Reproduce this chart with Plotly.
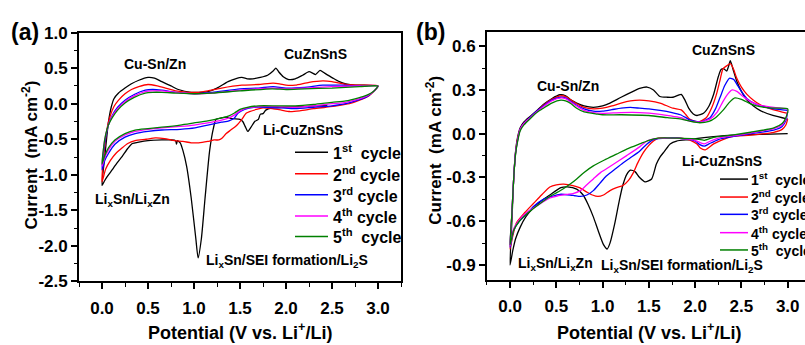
import plotly.graph_objects as go

W, H = 805, 345

# ---------------- Panel (a) data ----------------
A1_X = [2.45, 2.2, 2.0, 1.85, 1.78, 1.75, 1.72, 1.70, 1.66, 1.62, 1.585, 1.56, 1.53, 1.50, 1.42, 1.35, 1.30, 1.24, 1.21, 1.17, 1.12, 1.08, 1.045, 1.02, 0.97, 0.92, 0.88, 0.85, 0.82, 0.81, 0.80, 0.75, 0.65, 0.5, 0.4, 0.33, 0.28, 0.22, 0.16, 0.11, 0.06, 0.03, 0.0,
        0.03, 0.07, 0.10, 0.13, 0.18, 0.25, 0.32, 0.40, 0.50, 0.57, 0.65, 0.75, 0.83, 0.97, 1.06, 1.15, 1.25, 1.37, 1.45, 1.52, 1.58, 1.64, 1.72, 1.80, 1.86, 1.89, 1.92, 1.97, 2.03, 2.10, 2.18, 2.25, 2.29, 2.32, 2.37, 2.42, 2.51, 2.58, 2.65, 2.75, 2.85, 3.0]
A1_Y = [-0.02, -0.04, -0.05, -0.06, -0.09, -0.14, -0.15, -0.22, -0.25, -0.33, -0.39, -0.33, -0.25, -0.22, -0.21, -0.19, -0.20, -0.22, -0.35, -0.66, -1.33, -1.9, -2.17, -1.9, -1.33, -0.88, -0.66, -0.55, -0.52, -0.57, -0.52, -0.51, -0.51, -0.52, -0.54, -0.56, -0.63, -0.74, -0.84, -0.93, -1.02, -1.08, -1.15,
        -0.75, -0.26, -0.05, 0.07, 0.15, 0.22, 0.28, 0.33, 0.37, 0.36, 0.31, 0.25, 0.20, 0.16, 0.16, 0.17, 0.22, 0.31, 0.35, 0.37, 0.35, 0.35, 0.37, 0.40, 0.46, 0.50, 0.45, 0.38, 0.34, 0.35, 0.40, 0.45, 0.43, 0.41, 0.47, 0.43, 0.36, 0.31, 0.28, 0.26, 0.26, 0.25]

A2_X = [3.0, 2.96, 2.90, 2.80, 2.69, 2.55, 2.43, 2.3, 2.15, 2.04, 1.95, 1.85, 1.75, 1.68, 1.57, 1.52, 1.46, 1.40, 1.35, 1.30, 1.27, 1.22, 1.15, 1.05, 0.97, 0.88, 0.79, 0.68, 0.58, 0.48, 0.36, 0.28, 0.22, 0.15, 0.09, 0.04, 0.0,
        0.03, 0.06, 0.09, 0.13, 0.18, 0.25, 0.32, 0.40, 0.50, 0.60, 0.69, 0.80, 0.94, 1.05, 1.15, 1.30, 1.52, 1.70, 1.86, 1.93, 2.0, 2.1, 2.25, 2.40, 2.50, 2.65, 2.8, 3.0]
A2_Y = [0.25, 0.18, 0.11, 0.05, 0.0, -0.03, -0.05, -0.07, -0.10, -0.11, -0.09, -0.07, -0.06, -0.08, -0.13, -0.22, -0.31, -0.37, -0.42, -0.49, -0.51, -0.51, -0.53, -0.55, -0.55, -0.53, -0.52, -0.49, -0.48, -0.50, -0.52, -0.56, -0.62, -0.70, -0.80, -0.92, -1.10,
        -0.6, -0.32, -0.17, -0.04, 0.05, 0.14, 0.20, 0.24, 0.27, 0.25, 0.22, 0.18, 0.16, 0.16, 0.18, 0.22, 0.26, 0.27, 0.29, 0.28, 0.26, 0.26, 0.30, 0.32, 0.31, 0.27, 0.26, 0.25]

A3_X = [3.0, 2.95, 2.88, 2.78, 2.65, 2.5, 2.3, 2.1, 1.95, 1.8, 1.65, 1.55, 1.48, 1.44, 1.38, 1.30, 1.15, 1.01, 0.85, 0.65, 0.50, 0.36, 0.25, 0.14, 0.07, 0.03, 0.0,
        0.03, 0.07, 0.11, 0.17, 0.25, 0.35, 0.47, 0.55, 0.65, 0.80, 1.01, 1.2, 1.5, 1.7, 1.86, 2.0, 2.2, 2.4, 2.6, 2.8, 3.0]
A3_Y = [0.25, 0.17, 0.10, 0.05, 0.0, -0.03, -0.05, -0.07, -0.06, -0.05, -0.05, -0.08, -0.13, -0.20, -0.24, -0.26, -0.30, -0.34, -0.36, -0.37, -0.39, -0.42, -0.47, -0.57, -0.70, -0.80, -0.93,
        -0.55, -0.30, -0.17, -0.05, 0.05, 0.13, 0.19, 0.20, 0.19, 0.16, 0.14, 0.16, 0.21, 0.22, 0.24, 0.22, 0.23, 0.26, 0.26, 0.25, 0.25]

A4_X = [3.0, 2.95, 2.88, 2.78, 2.65, 2.5, 2.3, 2.1, 1.9, 1.7, 1.58, 1.50, 1.45, 1.38, 1.30, 1.15, 1.0, 0.85, 0.65, 0.50, 0.36, 0.25, 0.14, 0.07, 0.03, 0.0,
        0.03, 0.07, 0.11, 0.17, 0.25, 0.35, 0.47, 0.55, 0.65, 0.80, 1.0, 1.2, 1.5, 1.85, 2.0, 2.2, 2.5, 2.8, 3.0]
A4_Y = [0.25, 0.17, 0.11, 0.06, 0.02, 0.0, -0.03, -0.05, -0.04, -0.04, -0.06, -0.10, -0.15, -0.20, -0.23, -0.27, -0.30, -0.32, -0.34, -0.36, -0.39, -0.44, -0.53, -0.65, -0.76, -0.88,
        -0.5, -0.3, -0.18, -0.07, 0.03, 0.11, 0.17, 0.18, 0.18, 0.16, 0.14, 0.15, 0.19, 0.22, 0.21, 0.22, 0.24, 0.25, 0.25]

A5_X = [3.0, 2.95, 2.88, 2.78, 2.65, 2.5, 2.3, 2.1, 1.9, 1.7, 1.58, 1.50, 1.44, 1.38, 1.30, 1.15, 1.0, 0.85, 0.65, 0.50, 0.36, 0.25, 0.14, 0.07, 0.03, 0.0,
        0.03, 0.07, 0.11, 0.17, 0.25, 0.35, 0.47, 0.55, 0.65, 0.80, 1.0, 1.2, 1.5, 1.85, 2.0, 2.2, 2.5, 2.8, 3.0]
A5_Y = [0.25, 0.17, 0.12, 0.08, 0.04, 0.02, -0.01, -0.03, -0.03, -0.03, -0.05, -0.08, -0.13, -0.17, -0.20, -0.24, -0.27, -0.30, -0.33, -0.35, -0.37, -0.42, -0.51, -0.62, -0.73, -0.85,
        -0.5, -0.3, -0.2, -0.09, 0.01, 0.09, 0.15, 0.16, 0.16, 0.15, 0.14, 0.15, 0.18, 0.21, 0.20, 0.21, 0.22, 0.24, 0.25]

# ---------------- Panel (b) data ----------------
B1_X = [3.0, 2.7, 2.4, 2.2, 2.05, 1.94, 1.80, 1.73, 1.67, 1.62, 1.58, 1.53, 1.46, 1.40, 1.35, 1.30, 1.26, 1.22, 1.18, 1.13, 1.08, 1.05, 1.01, 0.95, 0.90, 0.84, 0.79, 0.72, 0.62, 0.55, 0.43, 0.34, 0.25, 0.17, 0.11, 0.06, 0.03, 0.0,
        0.02, 0.04, 0.06, 0.08, 0.11, 0.15, 0.22, 0.30, 0.36, 0.45, 0.54, 0.60, 0.66, 0.72, 0.80, 0.90, 1.00, 1.08, 1.20, 1.33, 1.40, 1.48, 1.55, 1.62, 1.70, 1.76, 1.82, 1.85, 1.89, 1.93, 1.98, 2.02, 2.09, 2.15, 2.20, 2.25, 2.28, 2.31, 2.34, 2.36, 2.38, 2.41, 2.45, 2.50, 2.56, 2.63, 2.70, 2.84, 3.0]
B1_Y = [0.0, -0.005, -0.01, -0.02, -0.03, -0.04, -0.05, -0.07, -0.12, -0.16, -0.21, -0.31, -0.33, -0.30, -0.26, -0.25, -0.28, -0.35, -0.46, -0.62, -0.75, -0.79, -0.76, -0.66, -0.57, -0.48, -0.42, -0.38, -0.365, -0.37, -0.42, -0.46, -0.51, -0.57, -0.64, -0.72, -0.80, -0.90,
        -0.6, -0.3, -0.12, -0.03, 0.04, 0.08, 0.12, 0.165, 0.20, 0.24, 0.267, 0.26, 0.23, 0.21, 0.19, 0.18, 0.19, 0.21, 0.25, 0.29, 0.31, 0.32, 0.30, 0.255, 0.25, 0.25, 0.265, 0.27, 0.23, 0.175, 0.135, 0.125, 0.14, 0.19, 0.27, 0.39, 0.44, 0.445, 0.43, 0.46, 0.50, 0.44, 0.36, 0.29, 0.23, 0.19, 0.16, 0.125, 0.10]

B2_X = [3.0, 2.98, 2.94, 2.85, 2.6, 2.4, 2.30, 2.20, 2.11, 2.06, 2.02, 1.95, 1.85, 1.7, 1.6, 1.55, 1.50, 1.44, 1.38, 1.33, 1.28, 1.22, 1.15, 1.08, 1.01, 0.95, 0.89, 0.83, 0.75, 0.68, 0.58, 0.50, 0.43, 0.34, 0.25, 0.16, 0.07, 0.03, 0.0,
        0.02, 0.04, 0.06, 0.08, 0.11, 0.15, 0.22, 0.30, 0.36, 0.45, 0.55, 0.60, 0.66, 0.72, 0.80, 0.90, 1.00, 1.10, 1.20, 1.30, 1.40, 1.50, 1.62, 1.76, 1.85, 1.90, 1.94, 2.03, 2.12, 2.18, 2.23, 2.27, 2.30, 2.34, 2.38, 2.41, 2.45, 2.50, 2.56, 2.63, 2.70, 2.84, 3.0]
B2_Y = [0.10, 0.06, 0.03, 0.01, -0.01, -0.02, -0.04, -0.07, -0.11, -0.10, -0.07, -0.045, -0.03, -0.03, -0.03, -0.05, -0.08, -0.13, -0.20, -0.27, -0.32, -0.355, -0.37, -0.39, -0.42, -0.43, -0.42, -0.40, -0.37, -0.355, -0.345, -0.35, -0.365, -0.42, -0.48, -0.54, -0.61, -0.70, -0.79,
        -0.55, -0.3, -0.13, -0.04, 0.03, 0.07, 0.115, 0.16, 0.195, 0.235, 0.26, 0.255, 0.23, 0.205, 0.18, 0.17, 0.175, 0.19, 0.21, 0.225, 0.23, 0.225, 0.21, 0.175, 0.163, 0.13, 0.10, 0.08, 0.11, 0.18, 0.27, 0.37, 0.445, 0.465, 0.48, 0.45, 0.38, 0.32, 0.27, 0.23, 0.20, 0.165, 0.14]

B3_X = [3.0, 2.98, 2.94, 2.85, 2.6, 2.4, 2.25, 2.15, 2.10, 2.05, 2.0, 1.9, 1.7, 1.55, 1.48, 1.40, 1.30, 1.22, 1.12, 1.04, 0.97, 0.90, 0.83, 0.76, 0.70, 0.65, 0.54, 0.45, 0.36, 0.25, 0.18, 0.10, 0.04, 0.0,
        0.02, 0.04, 0.06, 0.08, 0.11, 0.15, 0.22, 0.30, 0.36, 0.45, 0.55, 0.60, 0.66, 0.72, 0.80, 0.90, 1.00, 1.10, 1.20, 1.30, 1.40, 1.50, 1.62, 1.75, 1.84, 1.90, 1.94, 2.05, 2.16, 2.22, 2.27, 2.32, 2.37, 2.42, 2.45, 2.50, 2.56, 2.65, 2.74, 2.85, 3.0]
B3_Y = [0.15, 0.09, 0.05, 0.025, 0.0, -0.02, -0.04, -0.07, -0.085, -0.075, -0.05, -0.035, -0.03, -0.04, -0.07, -0.12, -0.165, -0.20, -0.25, -0.29, -0.34, -0.39, -0.42, -0.43, -0.425, -0.42, -0.415, -0.43, -0.45, -0.50, -0.55, -0.60, -0.66, -0.78,
        -0.55, -0.3, -0.13, -0.05, 0.03, 0.07, 0.115, 0.16, 0.19, 0.23, 0.25, 0.245, 0.22, 0.195, 0.17, 0.155, 0.155, 0.165, 0.175, 0.18, 0.175, 0.17, 0.16, 0.145, 0.13, 0.11, 0.095, 0.08, 0.11, 0.17, 0.25, 0.33, 0.38, 0.37, 0.34, 0.29, 0.24, 0.205, 0.185, 0.17, 0.16]

B4_X = [3.0, 2.98, 2.94, 2.85, 2.6, 2.4, 2.25, 2.15, 2.10, 2.05, 2.0, 1.9, 1.7, 1.55, 1.48, 1.40, 1.26, 1.08, 0.98, 0.90, 0.83, 0.76, 0.68, 0.61, 0.52, 0.43, 0.30, 0.18, 0.10, 0.04, 0.0,
        0.02, 0.04, 0.06, 0.08, 0.11, 0.15, 0.22, 0.30, 0.36, 0.45, 0.55, 0.60, 0.66, 0.72, 0.80, 0.90, 1.00, 1.20, 1.40, 1.60, 1.75, 1.85, 1.92, 2.05, 2.16, 2.24, 2.30, 2.35, 2.40, 2.45, 2.52, 2.60, 2.70, 2.85, 3.0]
B4_Y = [0.16, 0.10, 0.06, 0.035, 0.005, -0.015, -0.03, -0.055, -0.07, -0.06, -0.045, -0.035, -0.03, -0.035, -0.05, -0.09, -0.15, -0.225, -0.265, -0.31, -0.35, -0.39, -0.41, -0.415, -0.425, -0.44, -0.49, -0.54, -0.59, -0.65, -0.77,
        -0.55, -0.3, -0.13, -0.05, 0.03, 0.07, 0.11, 0.155, 0.185, 0.225, 0.245, 0.24, 0.215, 0.19, 0.16, 0.145, 0.14, 0.145, 0.145, 0.135, 0.12, 0.11, 0.09, 0.08, 0.10, 0.15, 0.22, 0.27, 0.30, 0.29, 0.255, 0.22, 0.195, 0.18, 0.17]

B5_X = [3.0, 2.98, 2.94, 2.85, 2.6, 2.4, 2.2, 2.10, 2.0, 1.8, 1.6, 1.50, 1.40, 1.28, 1.15, 1.02, 0.90, 0.80, 0.72, 0.65, 0.58, 0.50, 0.43, 0.30, 0.18, 0.10, 0.04, 0.0,
        0.02, 0.04, 0.06, 0.08, 0.11, 0.15, 0.22, 0.30, 0.36, 0.45, 0.55, 0.60, 0.66, 0.72, 0.80, 0.94, 1.0, 1.2, 1.5, 1.7, 1.85, 1.95, 2.05, 2.15, 2.22, 2.30, 2.37, 2.43, 2.50, 2.60, 2.70, 2.85, 3.0]
B5_Y = [0.17, 0.11, 0.07, 0.04, 0.01, -0.01, -0.025, -0.045, -0.035, -0.03, -0.03, -0.045, -0.07, -0.10, -0.14, -0.18, -0.22, -0.265, -0.31, -0.345, -0.375, -0.405, -0.43, -0.49, -0.55, -0.60, -0.66, -0.76,
        -0.55, -0.3, -0.14, -0.06, 0.02, 0.06, 0.105, 0.15, 0.175, 0.21, 0.23, 0.225, 0.205, 0.175, 0.15, 0.135, 0.13, 0.13, 0.125, 0.11, 0.10, 0.085, 0.075, 0.085, 0.11, 0.16, 0.215, 0.245, 0.235, 0.205, 0.185, 0.175, 0.17]

COLORS = ["#000000", "#ff0000", "#0000ff", "#ff00ff", "#008000"]
CYCLE_LABELS = ["1<sup>st</sup>\u00a0\u00a0cycle", "2<sup>nd</sup>\u00a0cycle", "3<sup>rd</sup>\u00a0cycle",
                "4<sup>th</sup>\u00a0cycle", "5<sup>th</sup>\u00a0\u00a0cycle"]

X_TICKS = [0.0, 0.5, 1.0, 1.5, 2.0, 2.5, 3.0]
X_TICKTEXT = ["0.0", "0.5", "1.0", "1.5", "2.0", "2.5", "3.0"]
YA_TICKS = [-2.5, -2.0, -1.5, -1.0, -0.5, 0.0, 0.5, 1.0]
YA_TICKTEXT = ["-2.5", "-2.0", "-1.5", "-1.0", "-0.5", "0.0", "0.5", "1.0"]
YB_TICKS = [-0.9, -0.6, -0.3, 0.0, 0.3, 0.6]
YB_TICKTEXT = ["-0.9", "-0.6", "-0.3", "0.0", "0.3", "0.6"]

FONT = "Liberation Sans, Arial, sans-serif"

def px(x):
    return x / W

def py(y):
    return 1 - y / H

fig = go.Figure()
A_DATA = [(A1_X, A1_Y), (A2_X, A2_Y), (A3_X, A3_Y), (A4_X, A4_Y), (A5_X, A5_Y)]
B_DATA = [(B1_X, B1_Y), (B2_X, B2_Y), (B3_X, B3_Y), (B4_X, B4_Y), (B5_X, B5_Y)]
for i, (xs, ys) in enumerate(A_DATA):
    fig.add_trace(go.Scatter(x=xs, y=ys, mode="lines", xaxis="x", yaxis="y",
                             line=dict(color=COLORS[i], width=1.3, shape="spline", smoothing=0.6),
                             showlegend=False, hoverinfo="skip"))
for i, (xs, ys) in enumerate(B_DATA):
    fig.add_trace(go.Scatter(x=xs, y=ys, mode="lines", xaxis="x2", yaxis="y2",
                             line=dict(color=COLORS[i], width=1.3, shape="spline", smoothing=0.6),
                             showlegend=False, hoverinfo="skip"))

tickfont = dict(family=FONT, size=17, color="black", weight="bold")
common = dict(showgrid=False, zeroline=False, showline=True, linecolor="black", linewidth=1.8,
              ticks="outside", ticklen=6, tickwidth=1.6, tickcolor="black", tickfont=tickfont,
              tickmode="array")
minor_x = dict(ticks="outside", ticklen=3.5, tickwidth=1.3, tickcolor="black", dtick=0.25, tick0=0)

fig.update_layout(
    width=W, height=H, margin=dict(l=0, r=0, t=0, b=0),
    paper_bgcolor="white", plot_bgcolor="white",
    xaxis=dict(domain=[px(79), px(401)], range=[-0.25, 3.25], anchor="y", mirror=True,
               tickvals=X_TICKS, ticktext=X_TICKTEXT, ticklabelstandoff=4, minor=minor_x, **common),
    yaxis=dict(domain=[py(288.3), py(25)], range=[-2.5, 1.0], anchor="x", mirror=True,
               tickvals=YA_TICKS, ticktext=YA_TICKTEXT,
               minor=dict(ticks="outside", ticklen=3.5, tickwidth=1.3, tickcolor="black", dtick=0.25, tick0=0),
               **common),
    xaxis2=dict(domain=[px(486.9), 1.0], range=[-0.25, 3.187], anchor="y2", mirror=True,
                tickvals=X_TICKS, ticktext=X_TICKTEXT, ticklabelstandoff=4, minor=minor_x, **common),
    yaxis2=dict(domain=[py(286.4), py(23.9)], range=[-1.0, 0.7], anchor="x2", mirror=False,
                tickvals=YB_TICKS, ticktext=YB_TICKTEXT,
                minor=dict(ticks="outside", ticklen=3.5, tickwidth=1.3, tickcolor="black", dtick=0.15, tick0=0),
                **common),
)

ann = []
def label(text, x, y, size, angle=0, xanchor="center"):
    ann.append(dict(text=text, x=px(x), y=py(y), xref="paper", yref="paper", showarrow=False,
                    xanchor=xanchor, yanchor="middle", textangle=angle,
                    font=dict(family=FONT, size=size, color="black", weight="bold")))

# panel labels
label("(a)", 25, 24, 23)
label("(b)", 430, 24, 23)
# axis titles
label("Current\u00a0\u00a0(mA cm<sup>-2</sup>)", 30, 155, 17, angle=-90)
label("Current\u00a0\u00a0(mA cm<sup>-2</sup>)", 434, 150, 17, angle=-90)
label("Potential (V vs. Li<sup>+</sup>/Li)", 240, 341, 18)
label("Potential (V vs. Li<sup>+</sup>/Li)", 649, 341, 18)
# peak annotations (a)
label("Cu-Sn/Zn", 155, 58, 14)
label("CuZnSnS", 315, 48, 14)
label("Li-CuZnSnS", 303, 128, 14)
label("Li<sub>x</sub>Sn/Li<sub>x</sub>Zn", 132, 202, 14)
label("Li<sub>x</sub>Sn/SEI formation/Li<sub>2</sub>S", 287, 267, 14)
# peak annotations (b)
label("Cu-Sn/Zn", 568, 82, 14)
label("CuZnSnS", 723, 43, 14)
label("Li-CuZnSnS", 722, 161, 14)
label("Li<sub>x</sub>Sn/Li<sub>x</sub>Zn", 555, 270, 14)
label("Li<sub>x</sub>Sn/SEI formation/Li<sub>2</sub>S", 682, 272, 14)

# legends
LEG_A_Y = [151.7, 174.3, 196.7, 219, 240.7]
LEG_B_Y = [180, 199, 217.3, 236.7, 255]
shapes = []
for i in range(5):
    shapes.append(dict(type="line", xref="paper", yref="paper", x0=px(295), x1=px(328),
                       y0=py(LEG_A_Y[i]), y1=py(LEG_A_Y[i]), line=dict(color=COLORS[i], width=1.5)))
    label(CYCLE_LABELS[i], 331, LEG_A_Y[i], 16, xanchor="left")
    shapes.append(dict(type="line", xref="paper", yref="paper", x0=px(720), x1=px(748),
                       y0=py(LEG_B_Y[i]), y1=py(LEG_B_Y[i]), line=dict(color=COLORS[i], width=1.5)))
    label(CYCLE_LABELS[i], 749, LEG_B_Y[i], 14, xanchor="left")

fig.update_layout(annotations=ann, shapes=shapes)
fig.write_html("out.html")
